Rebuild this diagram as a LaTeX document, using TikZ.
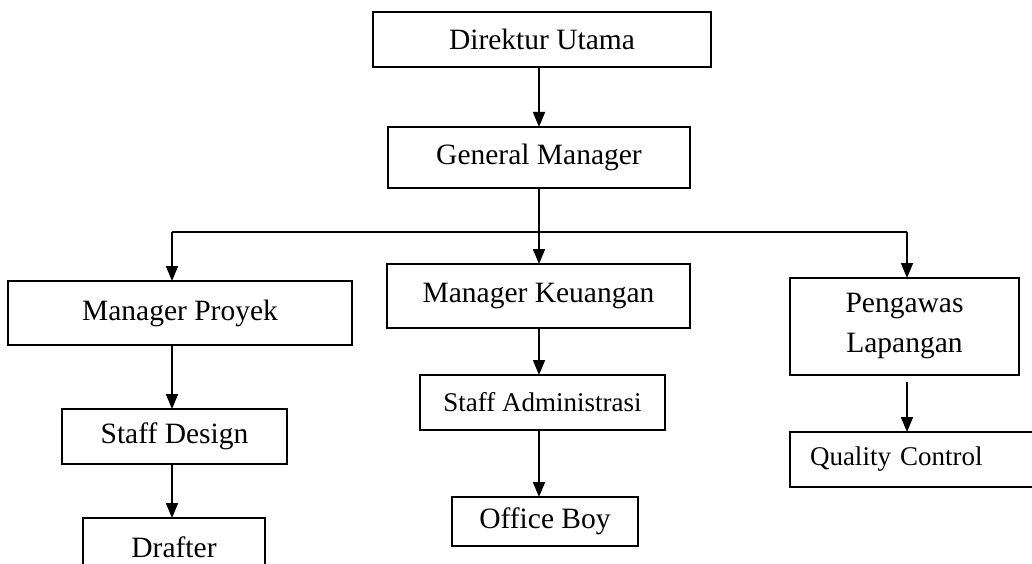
\documentclass[tikz,border=0pt]{standalone}
\usepackage{fontspec}
\setmainfont{Liberation Serif}
\usetikzlibrary{arrows.meta}
\begin{document}
\begin{tikzpicture}[x=1pt,y=-1pt,
  box/.style={draw, line width=1.8pt, inner sep=0pt, outer sep=0pt,
    font=\fontsize{29.5}{40}\selectfont, align=center},
  smallbox/.style={box, font=\fontsize{27}{36}\selectfont},
  arr/.style={line width=1.8pt, -{Triangle[length=15pt,width=12pt]}},
  link/.style={line width=1.8pt}]
\useasboundingbox (0,0) rectangle (1032,564);
\clip (0,0) rectangle (1032,564);
\fill[white] (0,0) rectangle (1032,564);

\node[box, minimum width=338pt, minimum height=55pt] (dir) at (542,39.5) {Direktur Utama};
\node[box, minimum width=302pt, minimum height=61pt] (gm) at (539,157.5) {General Manager};
\node[box, minimum width=344pt, minimum height=64pt] (mp) at (180,313) {Manager Proyek};
\node[box, minimum width=303pt, minimum height=64pt] (mk) at (538.5,296) {Manager Keuangan};
\node[box, minimum width=229pt, minimum height=97pt] (pl) at (904.5,326.5) {Pengawas\\Lapangan};
\node[smallbox, minimum width=245pt, minimum height=55pt] (sa) at (542.5,402.5) {Staff Administrasi};
\node[box, minimum width=225pt, minimum height=55pt] (sd) at (174.5,436.5) {Staff Design};
\node[box, minimum width=182pt, minimum height=58pt] (dr) at (174,547) {Drafter};
\node[box, minimum width=186pt, minimum height=49pt] (ob) at (545,521.5) {Office Boy};
\node[smallbox, inner xsep=20pt, text width=210pt, align=left, minimum height=55pt] (qc) at (915,459.5) {Quality Control};

\coordinate (cx) at (539,232);
\coordinate (jL) at (172,232);
\coordinate (jR) at (907,232);

\draw[arr] (dir.south -| cx) -- (gm.north -| cx);
\draw[arr] (gm.south -| cx) -- (mk.north -| cx);
\draw[link] (jL) -- (jR);
\draw[arr] (jL) -- (mp.north -| jL);
\draw[arr] (jR) -- (pl.north -| jR);
\draw[arr] (mk.south -| cx) -- (sa.north -| cx);
\draw[arr] (sa.south -| cx) -- (ob.north -| cx);
\draw[arr] (mp.south -| jL) -- (sd.north -| jL);
\draw[arr] (sd.south -| jL) -- (dr.north -| jL);
\draw[arr] ([yshift=-7pt]pl.south -| jR) -- (qc.north -| jR);
\end{tikzpicture}
\end{document}
